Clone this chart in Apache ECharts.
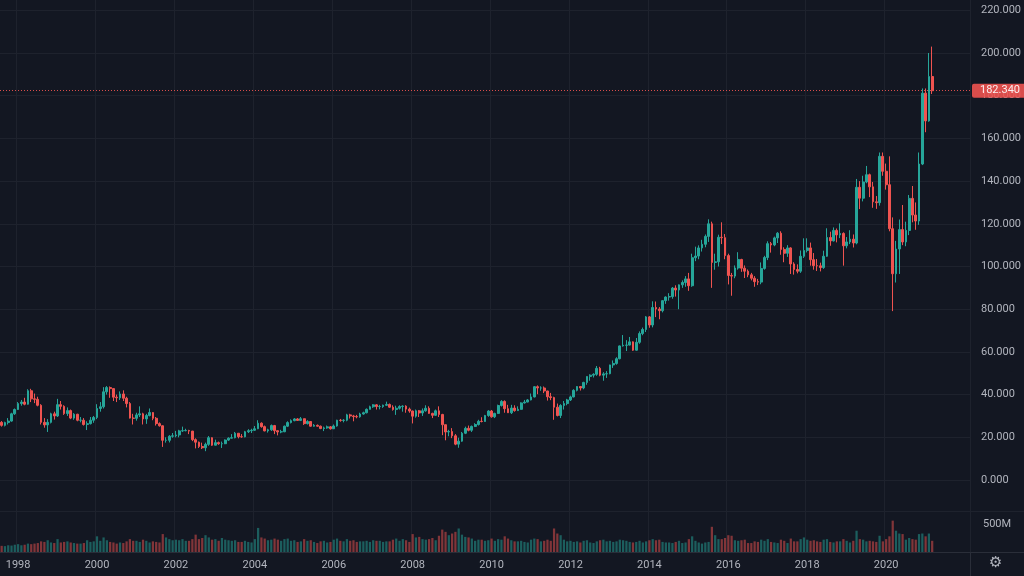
<!DOCTYPE html>
<html><head><meta charset="utf-8">
<script src="https://cdn.jsdelivr.net/npm/echarts@6/dist/echarts.min.js"></script>
<style>html,body{margin:0;padding:0;background:#131722;}#c{width:1024px;height:576px;}</style>
</head><body><div id="c"></div>
<script>
// Monthly candles, Aug 1997 .. Mar 2021, as [open, high, low, close]
const ohlc = [
// 1997 Aug-Dec
[27.0,27.6,25.0,25.6],[25.6,27.3,25.1,26.9],[26.9,29.0,26.0,27.6],[27.6,31.5,27.3,31.0],[31.0,33.5,30.5,33.0],
// 1998
[33.0,36.5,32.8,35.8],[35.8,37.5,34.8,36.5],[36.5,38.5,35.0,35.5],[35.5,42.5,35.3,41.8],[41.8,42.7,36.5,38.0],[38.0,40.5,36.0,37.8],
[37.8,39.0,34.5,35.0],[35.0,35.5,26.0,27.0],[27.0,29.0,24.5,25.8],[25.8,28.5,22.5,27.0],[27.0,31.5,26.5,31.0],[31.0,32.0,28.3,30.0],
// 1999
[30.0,38.0,29.5,35.3],[35.3,37.0,33.0,34.5],[34.5,35.0,30.5,31.1],[31.1,34.0,30.0,32.5],[32.5,33.0,28.5,29.0],[29.0,31.3,28.2,30.8],
[30.8,31.0,27.5,28.0],[28.0,29.5,27.0,28.0],[28.0,29.0,25.5,26.0],[26.0,27.5,23.4,26.4],[26.4,29.5,26.0,28.0],[28.0,30.0,26.8,29.3],
// 2000
[29.3,35.5,28.5,33.5],[33.5,36.5,32.0,34.3],[34.3,43.5,33.5,41.3],[41.3,44.0,40.0,43.3],[43.3,43.8,38.5,42.8],[42.8,43.0,37.0,38.8],
[38.8,40.0,36.5,38.5],[38.5,41.5,37.5,40.3],[40.3,42.0,37.0,38.3],[38.3,39.0,34.0,35.8],[35.8,36.5,28.8,29.0],[29.0,31.0,26.0,28.9],
// 2001
[28.9,31.5,27.8,30.5],[30.5,34.5,29.5,31.0],[31.0,31.5,26.0,28.6],[28.6,31.0,26.3,30.2],[30.2,33.5,29.8,31.6],[31.6,31.8,28.0,28.9],
[28.9,29.5,25.5,26.4],[26.4,27.0,25.0,25.4],[25.4,25.6,15.5,18.6],[18.6,20.0,17.5,18.6],[18.6,21.0,17.6,20.5],[20.5,22.0,19.8,20.7],
// 2002
[20.7,23.0,20.0,21.1],[21.1,23.5,20.0,23.0],[23.0,25.0,22.5,23.1],[23.1,24.0,22.8,23.2],[23.2,23.5,21.5,22.9],[22.9,23.0,18.2,18.9],
[18.9,19.5,14.8,17.7],[17.7,18.0,15.0,15.7],[15.7,17.5,14.5,15.1],[15.1,17.5,13.5,16.7],[16.7,20.6,16.0,19.8],[19.8,20.0,16.0,16.3],
// 2003
[16.3,18.9,16.2,17.5],[17.5,18.0,16.5,17.0],[17.0,18.0,15.0,17.0],[17.0,19.0,16.8,18.7],[18.7,20.0,18.3,19.6],[19.6,21.5,19.5,19.8],
[19.8,22.5,19.5,21.9],[21.9,21.9,19.5,20.3],[20.3,21.5,19.8,20.2],[20.2,23.0,20.0,22.6],[22.6,23.8,22.0,23.1],[23.1,24.0,22.0,23.3],
// 2004
[23.3,25.3,23.0,24.0],[24.0,28.0,23.8,26.6],[26.6,27.0,24.5,25.0],[25.0,25.5,22.8,23.0],[23.0,24.0,22.2,23.5],[23.5,26.0,23.0,25.5],
[25.5,25.8,21.5,23.1],[23.1,23.2,20.9,22.5],[22.5,23.5,21.9,22.6],[22.6,25.5,22.4,25.2],[25.2,27.5,24.8,26.9],[26.9,28.4,26.5,27.8],
// 2005
[27.8,29.0,27.5,28.6],[28.6,29.0,27.7,27.9],[27.9,29.5,27.6,28.7],[28.7,28.8,25.8,26.4],[26.4,28.0,26.0,27.4],[27.4,27.6,25.0,25.2],
[25.2,26.2,25.0,25.6],[25.6,26.0,25.0,25.2],[25.2,25.5,23.8,24.1],[24.1,25.0,22.9,24.4],[24.4,25.5,24.0,24.9],[24.9,25.3,23.6,24.0],
// 2006
[24.0,26.0,23.9,25.3],[25.3,28.2,25.0,28.0],[28.0,28.6,27.3,27.9],[27.9,28.5,27.0,28.0],[28.0,31.0,27.5,30.5],[30.5,31.0,28.8,30.0],
[30.0,30.5,27.5,29.7],[29.7,30.5,28.9,29.6],[29.6,31.5,29.2,30.9],[30.9,32.0,30.6,31.5],[31.5,33.5,31.2,33.1],[33.1,34.8,33.0,34.3],
// 2007
[34.3,35.5,33.8,35.2],[35.2,35.5,33.0,34.4],[34.4,35.2,33.1,34.4],[34.4,35.3,33.8,35.0],[35.0,36.7,34.8,35.4],[35.4,35.8,33.8,34.1],
[34.1,35.0,32.5,33.0],[33.0,34.8,30.5,33.6],[33.6,35.0,33.0,34.4],[34.4,35.0,32.0,34.6],[34.6,35.0,31.5,33.2],[33.2,33.9,31.5,32.3],
// 2008
[32.3,32.5,26.5,29.9],[29.9,33.0,29.2,32.4],[32.4,32.8,29.5,31.4],[31.4,33.5,30.0,32.4],[32.4,35.0,32.0,33.6],[33.6,34.5,31.0,31.2],
[31.2,31.5,29.0,30.3],[30.3,33.0,30.0,32.4],[32.4,34.5,29.5,30.7],[30.7,31.0,21.0,25.9],[25.9,26.0,18.6,22.5],[22.5,23.5,20.5,22.7],
// 2009
[22.7,24.3,19.6,20.7],[20.7,21.5,16.3,16.8],[16.8,19.8,15.1,18.2],[18.2,22.5,17.9,21.9],[21.9,25.0,21.5,24.2],[24.2,25.5,22.8,23.3],
[23.3,25.5,22.5,25.1],[25.1,26.6,24.8,26.0],[26.0,28.2,25.5,27.5],[27.5,29.4,27.0,27.4],[27.4,30.5,27.3,30.2],[30.2,32.7,29.6,32.3],
// 2010
[32.3,32.8,29.2,29.6],[29.6,31.5,29.0,31.2],[31.2,35.3,31.0,34.9],[34.9,37.4,34.4,36.8],[36.8,37.3,31.5,33.4],[33.4,35.2,31.4,31.5],
[31.5,35.2,30.9,33.7],[33.7,35.0,32.0,32.5],[32.5,34.5,32.3,33.1],[33.1,36.4,32.9,36.1],[36.1,37.5,35.8,36.5],[36.5,37.9,36.4,37.5],
// 2011
[37.5,40.5,37.3,38.9],[38.9,44.0,38.7,43.7],[43.7,44.3,40.2,43.1],[43.1,43.9,41.8,43.1],[43.1,43.8,40.7,41.7],[41.7,41.8,37.2,39.0],
[39.0,40.8,37.4,38.6],[38.6,39.0,28.2,34.1],[34.1,35.8,29.8,30.2],[30.2,35.5,29.0,34.9],[34.9,37.0,33.0,35.8],[35.8,38.0,35.0,37.5],
// 2012
[37.5,39.5,37.0,38.9],[38.9,42.5,38.7,42.0],[42.0,44.0,41.5,43.8],[43.8,44.0,41.9,43.1],[43.1,46.0,42.5,45.7],[45.7,48.6,44.6,48.5],
[48.5,49.5,46.5,49.1],[49.1,50.0,48.0,49.5],[49.5,53.4,48.8,52.3],[52.3,53.0,48.6,49.1],[49.1,50.5,46.5,49.7],[49.7,51.0,47.8,49.8],
// 2013
[49.8,54.0,49.5,53.9],[53.9,56.0,52.5,54.6],[54.6,57.5,54.0,56.8],[56.8,63.0,56.5,62.8],[62.8,67.9,62.5,63.1],[63.1,65.5,60.4,63.2],
[63.2,67.0,63.0,64.7],[64.7,64.9,60.5,60.8],[60.8,66.5,60.6,64.5],[64.5,69.6,63.8,68.6],[68.6,71.4,67.8,70.5],[70.5,76.8,69.3,76.4],
// 2014
[76.4,76.8,71.3,72.6],[72.6,83.7,71.5,80.8],[80.8,83.6,76.3,80.1],[80.1,81.0,75.3,79.3],[79.3,84.3,78.5,84.0],[84.0,86.0,82.5,85.7],
[85.7,87.5,84.0,85.9],[85.9,90.4,84.9,89.9],[89.9,91.2,85.9,89.0],[89.0,91.6,80.0,91.4],[91.4,93.5,90.0,92.5],[92.5,95.5,90.5,94.2],
// 2015
[94.2,97.0,88.6,91.0],[91.0,106.0,90.5,104.1],[104.1,109.3,102.5,104.9],[104.9,109.9,103.4,108.7],[108.7,112.5,107.0,110.4],[110.4,115.0,109.0,114.1],
[114.1,122.1,111.5,120.0],[120.0,121.0,90.0,101.9],[101.9,106.0,98.5,102.2],[102.2,114.9,100.0,113.7],[113.7,120.7,110.5,113.5],[113.5,115.2,103.4,105.1],
// 2016
[105.1,106.0,91.6,95.8],[95.8,97.0,86.3,95.5],[95.5,100.5,94.5,99.3],[99.3,106.7,98.5,103.3],[103.3,103.6,97.5,99.2],[99.2,100.5,94.6,97.8],
[97.8,98.6,95.0,96.1],[96.1,97.0,93.5,94.5],[94.5,95.5,90.5,92.9],[92.9,94.2,91.3,92.7],[92.7,101.9,91.7,99.1],[99.1,105.0,98.5,104.2],
// 2017
[104.2,111.8,103.0,110.7],[110.7,111.5,106.5,110.1],[110.1,114.0,109.5,113.4],[113.4,116.1,111.0,115.6],[115.6,116.5,105.5,108.0],[108.0,109.0,102.0,106.2],
[106.2,110.0,104.5,108.7],[108.7,109.0,96.5,101.2],[101.2,102.0,96.2,98.6],[98.6,101.0,96.8,97.8],[97.8,107.5,97.0,104.8],[104.8,113.2,104.0,107.5],
// 2018
[107.5,113.2,106.6,108.7],[108.7,111.2,100.4,103.2],[103.2,106.3,98.5,100.4],[100.4,103.5,97.9,100.3],[100.3,101.8,97.7,99.5],[99.5,107.4,98.9,104.8],
[104.8,117.9,104.5,113.6],[113.6,116.3,109.7,112.0],[112.0,118.3,111.7,116.9],[116.9,117.8,111.3,114.8],[114.8,120.2,113.3,115.5],[115.5,116.0,100.4,109.7],
// 2019
[109.7,113.8,108.5,111.5],[111.5,117.0,110.5,112.8],[112.8,115.0,108.9,111.0],[111.0,141.0,110.4,137.1],[137.1,140.0,126.9,132.0],[132.0,142.5,130.5,139.6],
[139.6,147.1,139.0,143.0],[143.0,143.5,132.5,137.3],[137.3,139.6,127.5,130.3],[130.3,133.0,127.0,129.9],[129.9,153.4,128.5,151.6],[151.6,153.4,142.5,144.6],
// 2020
[144.6,148.2,136.0,138.3],[138.3,151.6,116.5,117.7],[117.7,123.0,79.1,96.6],[96.6,112.0,92.5,108.2],[108.2,122.0,96.5,117.3],[117.3,128.8,110.0,111.5],
[111.5,121.0,109.5,116.9],[116.9,133.5,114.7,131.9],[131.9,137.7,120.7,124.1],[124.1,130.0,117.2,121.3],[121.3,153.4,119.5,148.0],[148.0,183.4,147.5,181.2],
// 2021 Jan-Mar
[181.2,183.4,162.9,168.2],[168.2,200.0,167.8,189.0],[189.0,203.0,180.8,182.34]
];
// Monthly volume, millions of shares
const volumes = [
110,105,120,115,130,
140,120,130,150,140,150,160,190,180,210,170,160,
230,170,180,190,170,160,150,150,160,210,180,190,
280,200,260,210,180,170,150,170,160,190,230,200,
200,180,220,200,170,190,180,170,320,260,230,210,
220,210,230,200,200,230,310,230,250,300,260,220,
230,200,250,220,210,200,210,180,180,200,180,170,
230,430,260,240,210,220,240,220,200,230,240,200,
210,180,190,230,200,210,180,160,190,200,170,180,
220,240,200,190,230,200,210,180,190,190,200,180,
210,200,200,180,190,190,220,240,200,230,210,180,
320,260,270,230,220,230,250,210,290,400,360,300,
330,360,420,310,270,260,240,200,220,220,200,210,
240,200,230,220,280,240,210,190,190,200,180,170,
220,240,230,190,200,220,200,420,330,300,220,190,
200,180,190,170,200,210,170,160,190,210,220,190,
200,180,190,220,210,200,180,170,180,200,170,190,
210,230,210,220,180,170,170,160,180,200,160,170,
230,280,200,170,150,170,180,450,300,230,230,250,
300,290,210,200,210,220,160,160,190,180,220,200,
230,180,170,160,220,200,160,240,190,190,230,260,
220,200,210,190,180,220,230,180,170,190,190,230,
200,170,200,380,230,220,190,200,190,180,290,190,
230,280,560,380,330,320,220,250,230,220,320,330,
280,330,200
];
const lastPrice = 182.34;
const yearTicks = ['1998','2000','2002','2004','2006','2008','2010','2012','2014','2016','2018','2020'];
const priceTicks = [0,20,40,60,80,100,120,140,160,180,200,220];
const volumeTickLabel = '500M';

// month categories starting Aug 1997, with empty months to the right
const months = [];
for (let i = 0; i < 295; i++) {
  const m = (7 + i) % 12, y = 1997 + Math.floor((7 + i) / 12);
  months.push(y + '-' + String(m + 1).padStart(2, '0'));
}
const isYearTick = (v) => v.endsWith('-01') && yearTicks.includes(v.slice(0, 4));

const UP = '#26a69a', DOWN = '#ef5350';
const candleData = ohlc.map(r => [r[0], r[3], r[2], r[1]]);
const volData = volumes.map((v, i) => ({
  value: v,
  itemStyle: { color: ohlc[i][3] >= ohlc[i][0] ? 'rgba(38,166,154,0.5)' : 'rgba(239,83,80,0.5)' }
}));

const chart = echarts.init(document.getElementById('c'), null, { renderer: 'canvas' });
const gridLine = '#1e222d';
const textCol = '#b2b5be';
chart.setOption({
  backgroundColor: '#131722',
  animation: false,
  grid: [
    { left: 0, width: 970, top: 10.3, height: 469.7 },
    { left: 0, width: 970, top: 512, height: 40 },
    { left: 0, width: 970, top: 0, height: 552 }
  ],
  xAxis: [
    { type: 'category', gridIndex: 0, data: months, boundaryGap: true,
      axisLine: { show: false }, axisTick: { show: false }, axisLabel: { show: false }, splitLine: { show: false } },
    { type: 'category', gridIndex: 1, data: months, boundaryGap: true,
      axisLine: { show: true, lineStyle: { color: '#2a2e39' } }, axisTick: { show: false },
      axisLabel: { show: true, interval: (i, v) => isYearTick(v), formatter: v => v.slice(0, 4),
        color: textCol, fontSize: 11, fontFamily: 'Roboto', margin: 8 },
      splitLine: { show: false } },
    { type: 'category', gridIndex: 2, data: months, boundaryGap: true,
      axisLine: { show: false }, axisTick: { show: false }, axisLabel: { show: false },
      splitLine: { show: true, interval: (i, v) => isYearTick(v), lineStyle: { color: gridLine, width: 1 } } }
  ],
  yAxis: [
    { type: 'value', gridIndex: 0, position: 'right', min: 0, max: 220, interval: 20,
      axisLine: { show: false }, axisTick: { show: false },
      axisLabel: { color: textCol, fontSize: 11, fontFamily: 'Roboto', margin: 11,
        formatter: v => priceTicks.includes(v) ? v.toFixed(3) : '' },
      splitLine: { show: true, lineStyle: { color: gridLine, width: 1 } } },
    { type: 'value', gridIndex: 1, position: 'right', min: 0, max: 714.3, interval: 500,
      axisLine: { show: false }, axisTick: { show: false },
      axisLabel: { color: textCol, fontSize: 11, fontFamily: 'Roboto', margin: 13,
        formatter: v => v === 500 ? volumeTickLabel : '' },
      splitLine: { show: false } },
    { type: 'value', gridIndex: 2, show: false }
  ],
  series: [
    { type: 'candlestick', xAxisIndex: 0, yAxisIndex: 0, data: candleData, barWidth: '68%',
      itemStyle: { color: UP, color0: DOWN, borderColor: UP, borderColor0: DOWN, borderWidth: 1 },
      markLine: { silent: true, symbol: ['none', 'none'], animation: false,
        data: [{ yAxis: lastPrice }],
        lineStyle: { color: DOWN, type: [1, 2], width: 1, opacity: 0.9 },
        label: { show: true, position: 'end', distance: 2, formatter: lastPrice.toFixed(3),
          backgroundColor: DOWN, color: '#ffffff', fontSize: 11, fontFamily: 'Roboto',
          padding: [2, 8, 1, 8], borderRadius: 2 } } },
    { type: 'bar', xAxisIndex: 1, yAxisIndex: 1, data: volData, barWidth: '68%' }
  ],
  graphic: [
    { type: 'line', shape: { x1: 970.5, y1: 0, x2: 970.5, y2: 576 }, style: { stroke: '#2a2e39', lineWidth: 1 }, silent: true },
    { type: 'line', shape: { x1: 0, y1: 511.5, x2: 1024, y2: 511.5 }, style: { stroke: '#1e222d', lineWidth: 1 }, silent: true },
    { type: 'line', shape: { x1: 970, y1: 552.5, x2: 1024, y2: 552.5 }, style: { stroke: '#2a2e39', lineWidth: 1 }, silent: true },
    { type: 'text', left: 989, top: 556, style: { text: '⚙', fill: textCol, font: '15px "DejaVu Sans"' }, silent: true }
  ]
});
</script>
</body></html>
